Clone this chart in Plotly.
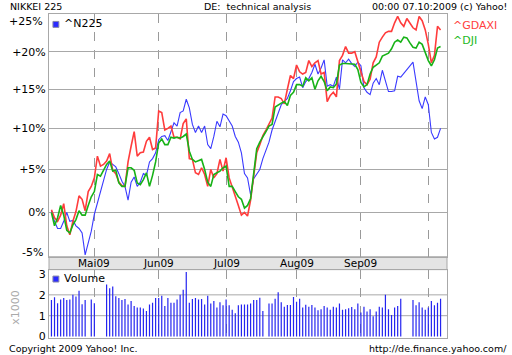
import pandas as pd
import plotly.graph_objects as go

# ---------------- data ----------------
dates = pd.bdate_range("2009-04-13", "2009-10-07")  # weekdays

n225 = [0.2, -1.0, -1.8, -1.8, -1.0,
        0.0, -1.0, -0.9, -1.5, -1.8,
        -2.3, -4.7, None, -2.1, -0.2,
        None, None, None, 5.0, 5.9,
        5.6, 5.3, 4.5, 3.6, 3.0,
        1.4, 3.5, 4.1, 3.0, 3.5,
        4.5, 4.3, 5.9, 6.3, 7.0,
        8.6, 9.0, 9.1, 8.5, 9.6,
        10.7, 10.3, 12.0, 12.2, 13.7,
        12.6, 10.5, 9.5, 10.3, 9.5,
        10.3, 8.0, 7.5, 9.0, 10.9,
        10.2, 11.8, 11.6, 11.0, 10.3,
        9.0, 8.3, 7.0, 4.5, 4.0,
        2.0, 3.9, 4.4, 5.0, 6.3,
        None, 8.3, 9.8, 10.8, 11.8,
        13.0, 13.4, 13.8, 14.8, 16.0,
        16.4, 16.6, 15.2, 16.0, 16.4,
        17.2, 18.3, 17.0, 17.8, 18.9,
        15.4, 15.6, 15.4, 16.6, 15.0,
        18.9, 18.5, 19.0, 18.4, 18.0,
        18.6, 18.1, 15.2, 14.6, 14.3,
        15.8, 16.4, 15.6, 17.5, 16.0,
        14.7, 14.7, 14.8, 16.7, 16.6,
        None, None, None, 18.6, 15.8,
        13.5, 12.5, 14.0, 13.0, 9.5,
        8.7, 8.9, 10.0]

gdaxi = [0.3, -0.6, -1.0, -0.3, 1.0,
         -1.5, -2.5, -1.0, 0.1, 1.9,
         1.5, 0.2, 2.4, 3.0, 4.0,
         6.6, 5.4, 5.6, 6.0, 6.9,
         4.9, 4.5, 3.5, 3.1, 3.0,
         5.9, 7.8, 9.6, 6.6, 7.0,
         7.1, 8.4, 8.9, 7.4, 7.6,
         12.2, 12.0, 9.8, 10.0, 10.3,
         8.9, 8.9, 8.7, 10.6, 11.2,
         6.3, 6.2, 4.6, 4.4, 5.2,
         4.4, 3.0, 5.0, 4.0, 4.5,
         6.2, 4.8, 6.4, 4.0, 3.0,
         1.8, 0.8, -0.3, 0.0, -0.4,
         1.4, 4.2, 7.0, 8.0, 9.1,
         9.8, 10.5, 11.3, 14.0, 14.0,
         13.8, 13.1, 15.0, 16.8, 16.4,
         18.2, 17.3, 17.0, 17.2, 18.8,
         18.0, 18.5, 18.8, 17.0, 17.2,
         13.4, 14.2, 14.6, 14.0, 18.8,
         19.5, 20.7, 19.8, 19.8, 20.0,
         18.5, 17.3, 16.0, 15.6, 16.3,
         18.5, 19.3, 21.3, 22.0, 22.6,
         22.8, 22.8, 24.0, 24.9, 24.0,
         23.5, 24.6, 24.0, 23.3, 23.0,
         24.9, 24.3, 23.0, 21.0, 18.5,
         19.5, 23.5, 23.0]

dji = [0.0, -1.5, -0.6, 0.8, -0.3,
       -2.0, -2.3, -1.4, -0.8, 0.2,
       -0.3, -0.3, 0.8, 1.8, 2.4,
       4.4, 4.2, 5.0, 5.6, 6.0,
       4.8, 4.9, 3.4, 3.0, 3.0,
       5.2, 5.2, 4.9, 3.4, 3.2,
       3.8, 4.6, 3.0, 4.3, 5.9,
       8.2, 8.7, 8.0, 8.0, 8.9,
       8.8, 8.9, 8.8, 9.0, 9.3,
       7.2, 6.2, 5.9, 6.1, 6.2,
       5.0, 3.5, 3.0, 4.4, 4.6,
       4.8, 5.2, 5.4, 3.0, 3.0,
       2.4, 1.8, 1.5, 0.5, 0.8,
       1.6, 4.5, 7.5, 8.3, 8.9,
       9.6, 10.3, 10.5, 12.7, 13.0,
       13.2, 13.4, 12.9, 14.2, 14.6,
       15.6, 15.6, 15.4, 16.5, 16.1,
       16.5, 15.0, 16.1, 16.7, 16.0,
       14.8, 15.3, 15.2, 15.7, 18.2,
       18.4, 18.4, 18.4, 18.4, 18.3,
       17.6, 15.9, 15.3, 15.6, 17.0,
       17.9, 18.2, 18.5, 19.4, 19.6,
       19.8, 20.4, 21.3, 21.6, 21.3,
       22.0, 21.9, 21.2, 20.6, 20.5,
       21.3, 21.0, 20.0, 18.8, 18.1,
       18.9, 20.5, 20.7]

volume = [1.75, 1.88, 1.6, 1.78, 1.85,
          1.75, 1.78, 2.0, 1.92, 2.2,
          1.55, 1.75, None, 1.78, 1.6,
          None, None, None, 2.5, 2.32,
          2.4, 1.93, 1.85, 1.75, 1.8,
          1.54, 1.7, 1.46, 1.39, 1.39,
          1.34, 1.23, 1.54, 1.62, 1.85,
          1.85, 1.96, 1.46, 1.85, 1.62,
          1.62, 1.78, 2.01, 2.25, 3.1,
          1.62, 1.8, 1.85, 1.78, 1.8,
          1.54, 1.96, 1.59, 1.7, 1.39,
          1.65, 1.5, 1.78, 1.5, 1.28,
          1.12, 1.5, 1.54, 1.54, 1.54,
          1.59, 1.75, 1.75, 1.86, 1.23,
          None, 1.58, 1.58, 1.81, 2.12,
          1.65, 1.43, 1.51, 1.51, 1.9,
          1.67, 1.81, 1.39, 1.53, 1.43,
          1.51, 1.39, 1.26, 1.31, 1.47,
          1.39, 1.28, 1.43, 1.39, 1.58,
          1.28, 1.31, 1.36, 1.42, 1.31,
          1.58, 1.15, 1.43, 1.2, 1.31,
          0.97, 1.2, 1.43, 1.39, 2.0,
          1.31, 1.03, 1.39, 1.47, 1.81,
          None, None, None, 1.75, 1.5,
          1.65, 1.39, 1.28, 1.39, 1.7,
          1.5, 1.62, 1.81]

month_ticks = ["2009-05-01", "2009-06-01", "2009-07-01", "2009-08-03", "2009-09-01", "2009-10-01"]
month_labels = ["Mai09", "Jun09", "Jul09", "Aug09", "Sep09", ""]
pct_ticks = [0, 5, 10, 15, 20]
pct_labels = ["0%", "+5%", "+10%", "+15%", "+20%"]
vol_ticks = [0, 1, 2, 3]

# ---------------- layout helpers ----------------
W, H = 512, 355
ML, MR, MT, MB = 43, 65, 14, 14
PW, PH = W - ML - MR, H - MT - MB


def px(x):
    return (x - ML) / PW


def py(y):
    return (H - MB - y) / PH


def ratio(v):
    return None if v is None else 1 + v / 100.0


FONT = "DejaVu Sans"
GRID = "#a8a8a8"

fig = go.Figure()
fig.add_trace(go.Scatter(x=dates, y=[ratio(v) for v in n225], mode="lines",
                         line=dict(color="#3a3aff", width=1.1), connectgaps=True,
                         xaxis="x", yaxis="y"))
fig.add_trace(go.Scatter(x=dates, y=[ratio(v) for v in gdaxi], mode="lines",
                         line=dict(color="#ff3c3c", width=1.6),
                         xaxis="x", yaxis="y"))
fig.add_trace(go.Scatter(x=dates, y=[ratio(v) for v in dji], mode="lines",
                         line=dict(color="#17b217", width=1.6),
                         xaxis="x", yaxis="y"))
# volume as thin vertical stems (error bars from 0 up to the value)
fig.add_trace(go.Scatter(x=dates, y=volume, mode="markers",
                         marker=dict(size=1, color="rgba(0,0,0,0)"),
                         error_y=dict(type="data", symmetric=False,
                                      array=[0 if v is not None else None for v in volume],
                                      arrayminus=volume, width=0, thickness=1.2,
                                      color="#2424f0"),
                         xaxis="x2", yaxis="y2"))

xr = ["2009-04-10 04:48", "2009-10-09 02:24"]
common_x = dict(type="date", range=xr, rangebreaks=[dict(bounds=["sat", "mon"])],
                tickmode="array", tickvals=month_ticks, ticktext=month_labels,
                showgrid=True, gridcolor="#9a9a9a", griddash="dash", gridwidth=1,
                showline=True, mirror=True, linecolor=GRID, linewidth=1,
                ticks="", zeroline=False, fixedrange=True, showticklabels=False)

main_bottom = py(259)
vol_top = py(272)

fig.update_layout(
    width=W, height=H,
    margin=dict(l=ML, r=MR, t=MT, b=MB),
    paper_bgcolor="white", plot_bgcolor="white",
    showlegend=False, hovermode=False,
    font=dict(family=FONT, size=11, color="black"),
    xaxis=dict(common_x, anchor="y"),
    yaxis=dict(type="log", domain=[main_bottom, 1],
               range=[-0.02181, 0.09775], tickmode="array",
               tickvals=[ratio(v) for v in pct_ticks], ticktext=pct_labels,
               showgrid=True, gridcolor=GRID, gridwidth=1,
               showline=True, mirror=True, linecolor=GRID,
               ticks="", tickfont=dict(size=11, family=FONT), fixedrange=True),
    xaxis2=dict(common_x, anchor="y2", matches="x"),
    yaxis2=dict(domain=[0, vol_top], range=[-0.07, 3.21], tickmode="array",
                tickvals=vol_ticks, showgrid=False, zeroline=False,
                showline=True, mirror=True, linecolor=GRID,
                ticks="", tickfont=dict(size=11, family=FONT), fixedrange=True),
)

shapes = [
    # date band between panels
    dict(type="rect", xref="paper", yref="paper", x0=0, x1=1, y0=vol_top, y1=main_bottom,
         fillcolor="#e4e4e4", line=dict(color=GRID, width=1), layer="below"),
    # zero line
    dict(type="line", xref="paper", yref="y", x0=0, x1=1, y0=0, y1=0,
         line=dict(color="black", width=1.5)),
    # legend squares
    dict(type="rect", xref="paper", yref="paper", x0=px(47), x1=px(53),
         y0=py(27.5), y1=py(21.5), fillcolor="#2a2aff", line=dict(color="#8888aa", width=1)),
    dict(type="rect", xref="paper", yref="paper", x0=px(47), x1=px(53),
         y0=py(284.5), y1=py(278.5), fillcolor="#2a2aff", line=dict(color="#8888aa", width=1)),
]
for g in [1, 2]:
    shapes.append(dict(type="line", xref="paper", yref="y2", x0=0, x1=1, y0=g, y1=g,
                       line=dict(color=GRID, width=1), layer="below"))
fig.update_layout(shapes=shapes)

ann = []


def text(x, y, s, size=9.5, color="black", xanchor="left", **kw):
    ann.append(dict(x=px(x), y=py(y), xref="paper", yref="paper", text=s,
                    showarrow=False, xanchor=xanchor, yanchor="middle",
                    font=dict(size=size, color=color, family=FONT), **kw))


# month labels inside the date band, placed on the x axis scale
for d, lab in zip(month_ticks, month_labels):
    if lab:
        ann.append(dict(x=d, y=py(265.8), xref="x", yref="paper", text=lab,
                        showarrow=False, xanchor="center", yanchor="middle",
                        font=dict(size=10.5, color="black", family=FONT)))

text(1, 6, "NIKKEI 225")
text(255, 6, "DE:  technical analysis", xanchor="center")
text(510, 6, "00:00 07.10:2009 (c) Yahoo!", xanchor="right")
text(0, 352, "Copyright 2009 Yahoo! Inc.")
text(510, 352, "http://de.finance.yahoo.com/", xanchor="right")
text(56, 24, "^N225", size=11)
text(56, 281, "Volume", size=11)
text(451, 26, "^GDAXI", size=11, color="#ff4040")
text(451, 41, "^DJI", size=11, color="#22b822")
text(39, 22, "+25%", size=11, xanchor="right")
text(39, 255, "-5%", size=11, xanchor="right")
text(9, 310, "x1000", size=11, color="#aaaaaa", xanchor="center", textangle=-90)
fig.update_layout(annotations=ann)

fig.write_html("out.html")
